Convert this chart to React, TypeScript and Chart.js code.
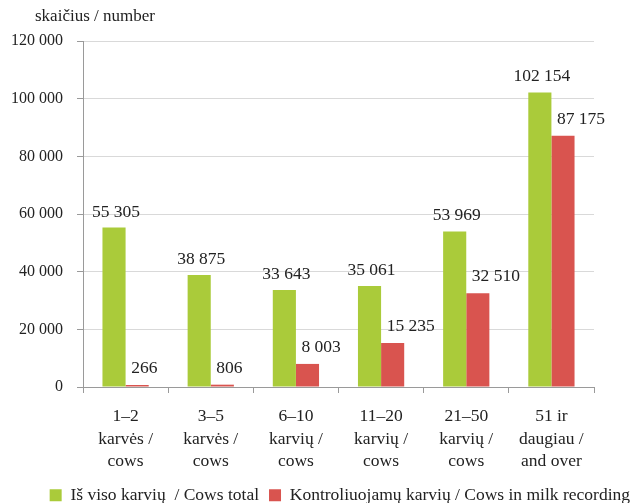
import React, { useEffect, useRef } from "react";
import { Chart, registerables } from "chart.js";

Chart.register(...registerables);

const categories: string[][] = [
  ["1–2", "karvės /", "cows"],
  ["3–5", "karvės /", "cows"],
  ["6–10", "karvių /", "cows"],
  ["11–20", "karvių /", "cows"],
  ["21–50", "karvių /", "cows"],
  ["51 ir", "daugiau /", "and over"],
];
const cowsTotal = [55305, 38875, 33643, 35061, 53969, 102154];
const cowsRecording = [266, 806, 8003, 15235, 32510, 87175];
const seriesNames = ["Iš viso karvių  / Cows total", "Kontroliuojamų karvių / Cows in milk recording"];
const yTitle = "skaičius / number";

const FONT = "'Liberation Serif', 'Times New Roman', serif";
const GREEN = "#AACB3A";
const RED = "#D9544F";

const fmt = (v: number) => String(Math.round(v)).replace(/\B(?=(\d{3})+(?!\d))/g, " ");

const labelPlugin = {
  id: "valueLabels",
  afterDatasetsDraw(chart: any) {
    const ctx = chart.ctx;
    ctx.save();
    ctx.font = `17.5px ${FONT}`;
    ctx.fillStyle = "#222";
    ctx.textBaseline = "alphabetic";
    chart.data.datasets.forEach((ds: any, di: number) => {
      const meta = chart.getDatasetMeta(di);
      meta.data.forEach((el: any, i: number) => {
        const v = ds.data[i];
        if (di === 0) {
          ctx.textAlign = "center";
          ctx.fillText(fmt(v), el.x + 2, el.y - 11);
        } else {
          ctx.textAlign = "left";
          ctx.fillText(fmt(v), el.x - 6, el.y - 12);
        }
      });
    });
    ctx.restore();
  },
};

const titlePlugin = {
  id: "yTitle",
  afterDraw(chart: any) {
    const ctx = chart.ctx;
    ctx.save();
    ctx.font = `17px ${FONT}`;
    ctx.fillStyle = "#222";
    ctx.textAlign = "left";
    ctx.textBaseline = "middle";
    ctx.fillText(yTitle, 35, 17);
    ctx.restore();
  },
};

export default function App() {
  const ref = useRef<HTMLCanvasElement | null>(null);
  useEffect(() => {
    if (!ref.current) return;
    const chart = new Chart(ref.current, {
      type: "bar",
      data: {
        labels: categories,
        datasets: [
          { label: seriesNames[0], data: cowsTotal, backgroundColor: GREEN, categoryPercentage: 0.543, barPercentage: 1 },
          { label: seriesNames[1], data: cowsRecording, backgroundColor: RED, categoryPercentage: 0.543, barPercentage: 1, minBarLength: 2 },
        ],
      },
      options: {
        animation: false,
        responsive: false,
        maintainAspectRatio: false,
        layout: { padding: { top: 41, left: 0, right: -8, bottom: -11 } },
        scales: {
          x: {
            grid: { display: true, drawOnChartArea: false, drawTicks: true, tickLength: 6, color: "#9a9a9a", offset: true },
            border: { color: "#9a9a9a" },
            ticks: { font: { family: FONT, size: 17.5, lineHeight: 1.3 }, color: "#222", padding: 12, maxRotation: 0, autoSkip: false },
            afterFit: (s: any) => { s.height = 89.5; },
          },
          y: {
            min: 0,
            max: 120000,
            ticks: { stepSize: 20000, font: { family: FONT, size: 16 }, color: "#222", padding: 14, callback: (v: any) => fmt(Number(v)) },
            grid: { color: "#d9d9d9", tickColor: "#9a9a9a", tickLength: 6 },
            border: { color: "#9a9a9a" },
            afterFit: (s: any) => { s.width = 83; },
          },
          yr: {
            position: "right",
            display: true,
            grid: { display: false },
            ticks: { display: false },
            border: { display: false },
            afterFit: (s: any) => { s.width = 46; },
          },
        },
        plugins: {
          legend: {
            position: "bottom",
            align: "end",
            labels: { font: { family: FONT, size: 17.5 }, color: "#222", boxWidth: 12, boxHeight: 12, padding: 10 },
          },
          tooltip: { enabled: false },
        },
      } as any,
      plugins: [labelPlugin, titlePlugin],
    });
    return () => chart.destroy();
  }, []);
  return (
    <div style={{ position: "fixed", left: 0, top: 0, width: 632, height: 503, background: "#fff", overflow: "hidden" }}>
      <canvas ref={ref} width={632} height={503} style={{ width: 632, height: 503 }} />
    </div>
  );
}
